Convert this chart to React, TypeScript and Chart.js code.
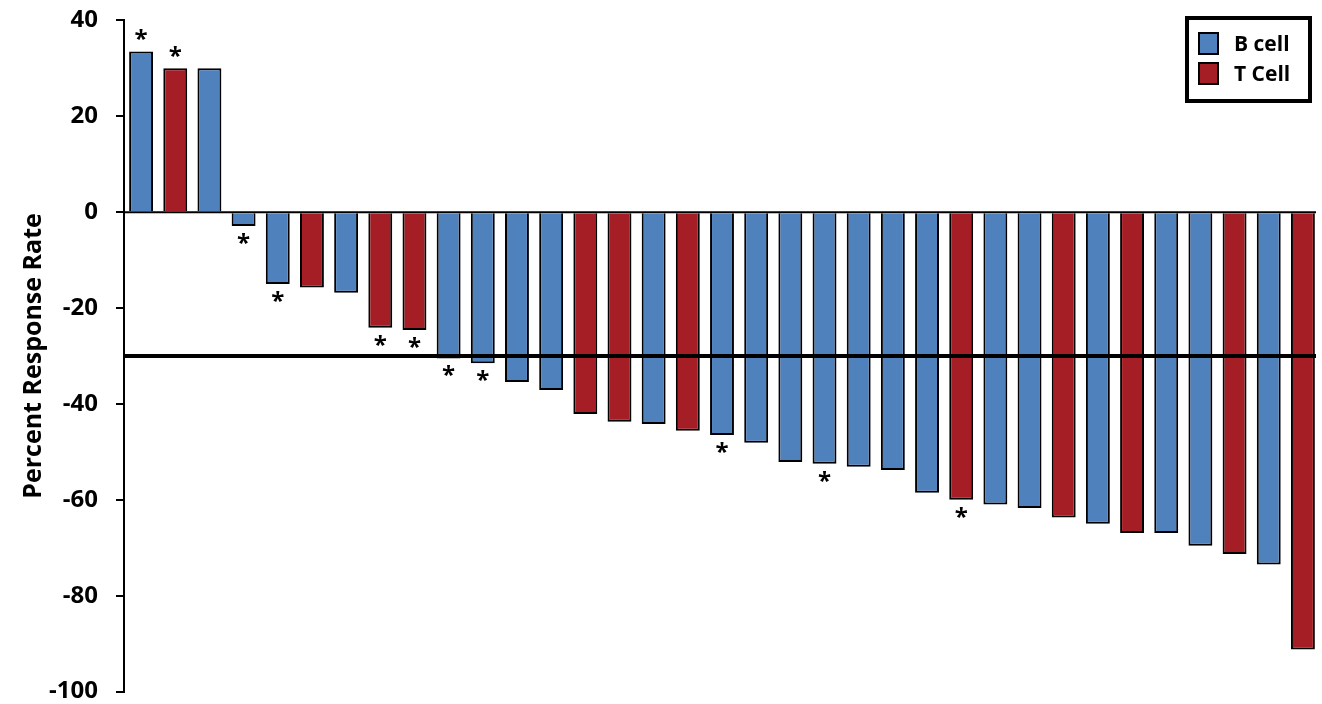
import React, { useEffect, useRef } from "react";
import { Chart, registerables } from "chart.js";

Chart.register(...registerables);

const categories: string[] = Array.from({ length: 35 }, (_, i) => `P${i + 1}`);
const cellTypes: string[] = [
  "B", "T", "B", "B", "B", "T", "B", "T", "T", "B",
  "B", "B", "B", "T", "T", "B", "T", "B", "B", "B",
  "B", "B", "B", "B", "T", "B", "B", "T", "B", "T",
  "B", "B", "T", "B", "T",
];
const responseValues: number[] = [
  33.5, 30, 30, -2.9, -15, -15.7, -16.8, -24.1, -24.6, -30.5,
  -31.5, -35.4, -37.1, -42.1, -43.7, -44.2, -45.6, -46.5, -48.1, -52.1,
  -52.5, -53.1, -53.8, -58.5, -60, -61, -61.7, -63.7, -65, -66.9,
  -66.9, -69.6, -71.3, -73.5, -91.2,
];
const starred: boolean[] = [
  true, true, false, true, true, false, false, true, true, true,
  true, false, false, false, false, false, false, true, false, false,
  true, false, false, false, true, false, false, false, false, false,
  false, false, false, false, false,
];
const yTicks: number[] = [40, 20, 0, -20, -40, -60, -80, -100];
const threshold = -30;
const legendLabels: string[] = ["B cell", "T Cell"];

const BLUE = "#4F81BD";
const RED = "#A51D25";
const FONT = "'Open Sans', 'Liberation Sans', sans-serif";
const SHIFT = 12;

export default function App() {
  const ref = useRef<HTMLCanvasElement | null>(null);

  useEffect(() => {
    if (!ref.current) return;
    const colors = cellTypes.map((t) => (t === "B" ? BLUE : RED));

    const overlay = {
      id: "overlay",
      beforeDatasetsDraw(chart: any) {
        const { ctx, chartArea, scales } = chart;
        const y0 = scales.y.getPixelForValue(0);
        ctx.save();
        ctx.strokeStyle = "#000";
        ctx.lineWidth = 2;
        ctx.beginPath();
        ctx.moveTo(chartArea.left, y0);
        ctx.lineTo(chartArea.right - 4, y0);
        ctx.stroke();
        ctx.restore();
      },
      afterDatasetsDraw(chart: any) {
        const { ctx, chartArea, scales } = chart;
        const yt = scales.y.getPixelForValue(threshold);
        ctx.save();
        ctx.strokeStyle = "#000";
        ctx.lineWidth = 4;
        ctx.beginPath();
        ctx.moveTo(chartArea.left, yt);
        ctx.lineTo(chartArea.right - 4, yt);
        ctx.stroke();

        // asterisks
        ctx.fillStyle = "#000";
        ctx.font = `bold 24px ${FONT}`;
        ctx.textAlign = "center";
        ctx.textBaseline = "middle";
        const meta = chart.getDatasetMeta(0);
        meta.data.forEach((bar: any, i: number) => {
          if (!starred[i]) return;
          const v = responseValues[i];
          const x = bar.x;
          const yEnd = scales.y.getPixelForValue(v);
          const y = v >= 0 ? yEnd - 11 : yEnd + 18;
          ctx.fillText("*", x, y);
        });

        // legend
        const lx = 1187, ly = 18 + SHIFT, lw = 123, lh = 83;
        ctx.lineWidth = 4;
        ctx.strokeStyle = "#000";
        ctx.fillStyle = "#fff";
        ctx.fillRect(lx, ly, lw, lh);
        ctx.strokeRect(lx, ly, lw, lh);
        const entries = [BLUE, RED];
        ctx.font = `bold 21px ${FONT}`;
        ctx.textAlign = "left";
        ctx.textBaseline = "middle";
        entries.forEach((c, i) => {
          const sy = 33 + SHIFT + i * 30;
          ctx.fillStyle = c;
          ctx.fillRect(1199, sy, 19, 21);
          ctx.lineWidth = 2;
          ctx.strokeStyle = "#000";
          ctx.strokeRect(1199, sy, 19, 21);
          ctx.fillStyle = "#000";
          ctx.fillText(legendLabels[i], 1234, sy + 12);
        });
        ctx.restore();
      },
    };

    const chart = new Chart(ref.current, {
      type: "bar",
      data: {
        labels: categories,
        datasets: [
          {
            data: responseValues,
            backgroundColor: colors,
            borderColor: "#000",
            borderWidth: 2,
            barPercentage: 0.7,
            categoryPercentage: 1,
          },
        ],
      },
      options: {
        animation: false,
        responsive: false,
        layout: { padding: { top: 6, bottom: 0, right: 2, left: 0 } },
        plugins: { legend: { display: false }, tooltip: { enabled: false } },
        scales: {
          x: { display: false },
          y: {
            min: -100,
            max: 40,
            afterBuildTicks(scale: any) {
              scale.ticks = yTicks.map((v) => ({ value: v }));
            },
            afterFit(scale: any) {
              scale.width = 124;
            },
            border: { display: true, color: "#000", width: 2 },
            grid: { drawOnChartArea: false, drawTicks: true, tickLength: 8, color: "#000", lineWidth: 2 },
            ticks: {
              color: "#000",
              font: { family: FONT, size: 24, weight: "bold" },
              padding: 18,
            },
            title: {
              display: true,
              text: "Percent Response Rate",
              color: "#000",
              font: { family: FONT, size: 25, weight: "bold" },
              padding: { top: 19, bottom: 0 },
            },
          },
        },
      },
      plugins: [overlay],
    });
    return () => chart.destroy();
  }, []);

  return (
    <div style={{ position: "fixed", left: 0, top: 0, width: 1322, height: 704, background: "#fff", overflow: "hidden" }}>
      <canvas
        ref={ref}
        width={1322}
        height={736}
        style={{ position: "absolute", left: 0, top: -SHIFT, width: 1322, height: 736 }}
      />
    </div>
  );
}
